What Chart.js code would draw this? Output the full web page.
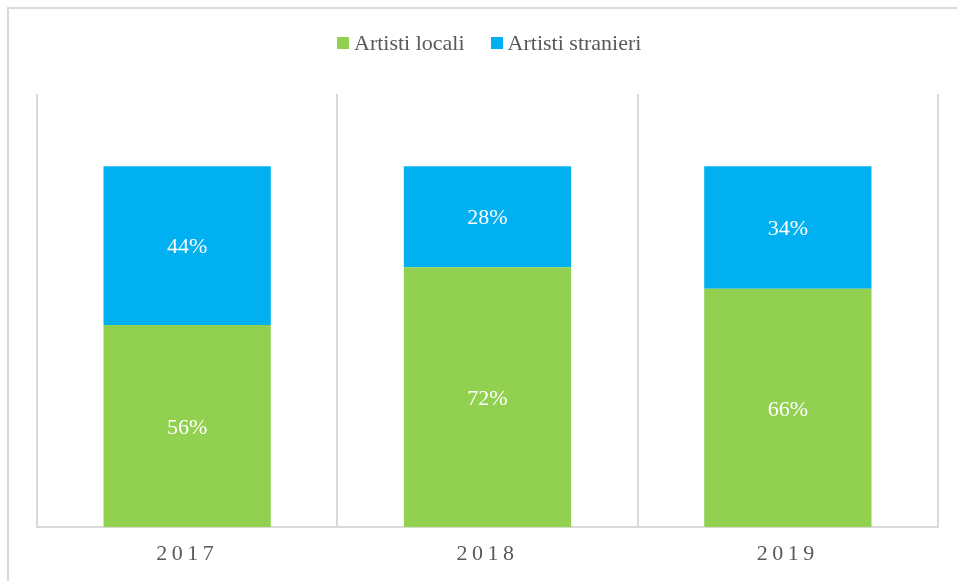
<!DOCTYPE html>
<html>
<head>
<meta charset="utf-8">
<script src="https://cdn.jsdelivr.net/npm/chart.js@4/dist/chart.umd.min.js"></script>
<style>
  html, body { margin: 0; padding: 0; background: #fff; overflow: hidden; }
  #frame {
    position: absolute; left: 7px; top: 7px; width: 1000px; height: 620px;
    border: 2px solid #d9d9d9; box-sizing: border-box;
  }
  #wrap { position: absolute; left: 0; top: 0; width: 957px; height: 581px; }
  #legend {
    position: absolute; left: 337px; top: 30px; display: flex; align-items: center;
    font-family: "Liberation Serif", serif; font-size: 22px; color: #595959;
  }
  #legend .item { display: flex; align-items: center; margin-right: 26px; }
  #legend .box { width: 12px; height: 12px; margin-right: 5px; }
</style>
</head>
<body>
<div id="frame"></div>
<div id="wrap"><canvas id="chart" width="957" height="581"></canvas></div>
<div id="legend"></div>
<script>
const years = ['2017', '2018', '2019'];
const locali = [56, 72, 66];
const stranieri = [44, 28, 34];
const seriesNames = ['Artisti locali', 'Artisti stranieri'];
const seriesColors = ['#92D050', '#00B0F0'];

// legend as plain html
const legend = document.getElementById('legend');
seriesNames.forEach((name, i) => {
    const item = document.createElement('div');
    item.className = 'item';
    item.innerHTML = '<span class="box" style="background:' + seriesColors[i] + '"></span>' + name;
    legend.appendChild(item);
});

// spaced-out year labels on the x axis; reset before bars are drawn
const spacing = {
    id: 'spacing',
    beforeDraw(chart) { chart.ctx.letterSpacing = '4.5px'; },
    beforeDatasetsDraw(chart) { chart.ctx.letterSpacing = '0px'; }
};

// percentage labels in the middle of each segment
const valueLabels = {
    id: 'valueLabels',
    afterDatasetsDraw(chart) {
        const ctx = chart.ctx;
        ctx.save();
        ctx.font = '22px "Liberation Serif", serif';
        ctx.fillStyle = '#ffffff';
        ctx.textAlign = 'center';
        ctx.textBaseline = 'middle';
        chart.data.datasets.forEach((ds, i) => {
            chart.getDatasetMeta(i).data.forEach((bar, j) => {
                ctx.fillText(ds.data[j] + '%', bar.x, (bar.y + bar.base) / 2 + 2);
            });
        });
        ctx.restore();
    }
};

new Chart(document.getElementById('chart'), {
    type: 'bar',
    data: {
        labels: years,
        datasets: [
            { label: seriesNames[0], data: locali, backgroundColor: seriesColors[0] },
            { label: seriesNames[1], data: stranieri, backgroundColor: seriesColors[1] }
        ]
    },
    options: {
        responsive: false,
        animation: false,
        events: [],
        categoryPercentage: 1,
        barPercentage: 0.557,
        layout: { padding: { left: 37, right: 19, top: 94, bottom: 0 } },
        plugins: {
            legend: { display: false },
            tooltip: { enabled: false }
        },
        scales: {
            x: {
                stacked: true,
                offset: true,
                grid: { offset: true, color: '#d9d9d9', lineWidth: 2, drawTicks: false },
                border: { color: '#d9d9d9', width: 2 },
                ticks: {
                    color: '#595959',
                    padding: 14,
                    font: { family: '"Liberation Serif", serif', size: 22 }
                },
                afterFit(scale) { scale.height = 54; }
            },
            y: {
                stacked: true,
                display: false,
                min: 0,
                max: 120
            }
        }
    },
    plugins: [spacing, valueLabels]
});
</script>
</body>
</html>
